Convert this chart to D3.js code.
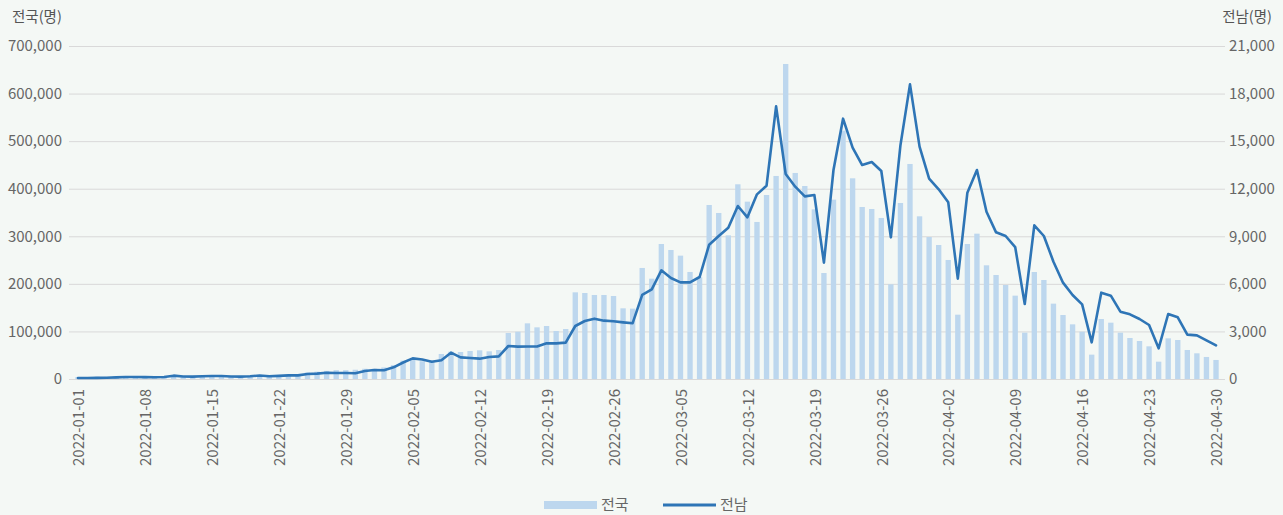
<!DOCTYPE html>
<html>
<head>
<meta charset="utf-8">
<script src="https://cdn.jsdelivr.net/npm/d3@7/dist/d3.min.js"></script>
<style>
html,body{margin:0;padding:0;background:#f4f8f5;}
svg{display:block;}
text{font-family:"Noto Sans CJK KR","Noto Sans",sans-serif;fill:#666;}
</style>
</head>
<body>
<svg id="chart" width="1283" height="515"></svg>
<script>
// Categories: daily dates 2022-01-01 .. 2022-04-30
const startDate = "2022-01-01";
const endDate = "2022-04-30";
const dates = d3.utcDay.range(new Date(startDate + "T00:00:00Z"), d3.utcDay.offset(new Date(endDate + "T00:00:00Z"), 1));

// 전국 (national daily cases) — bars, left axis
const national = [
  4060, 3310, 4710, 4370, 4370, 3940, 3720, 3580, 3190, 4650,
  4420, 4810, 4690, 4450, 4090, 4090, 6150, 6150, 7000, 7170,
  7430, 8090, 7960, 9090, 13800, 15390, 17060, 18600, 18580, 19440,
  21490, 21480, 24280, 29090, 38540, 41010, 37400, 38920, 52600, 57500,
  56800, 58900, 60300, 58200, 61000, 96700, 99500, 117000, 108600, 111400,
  100900, 105100, 182200, 180800, 176600, 176600, 174500, 148600, 147900, 233400,
  210900, 283800, 271200, 259300, 225000, 213700, 365800, 349000, 302000, 409300,
  372800, 330100, 386800, 426800, 662200, 433100, 405700, 356700, 222800, 377000,
  522000, 421900, 361600, 357400, 338500, 199000, 370000, 452000, 342000, 298500,
  281700, 250200, 135200, 283800, 305500, 239000, 218600, 197600, 175200, 97400,
  224900, 208100, 158400, 134500, 114900, 99500, 51200, 126100, 118400, 97400,
  86200, 79900, 68700, 36400, 85500, 82000, 61000, 54000, 46300, 40000
];

// 전남 (Jeonnam daily cases) — line, right axis
const jeonnam = [
  60, 65, 70, 75, 100, 125, 125, 120, 110, 130,
  210, 160, 150, 170, 190, 190, 160, 150, 170, 220,
  170, 200, 230, 230, 320, 340, 390, 380, 380, 360,
  505, 570, 550, 736, 1040, 1300, 1230, 1090, 1180, 1660,
  1366, 1324, 1282, 1387, 1429, 2081, 2039, 2045, 2050, 2249,
  2249, 2291, 3342, 3657, 3805, 3679, 3637, 3573, 3520, 5300,
  5654, 6853, 6369, 6096, 6096, 6432, 8471, 9018, 9543, 10909,
  10195, 11645, 12192, 17194, 12927, 12129, 11519, 11603, 7336, 13180,
  16417, 14588, 13495, 13684, 13116, 8934, 14735, 18582, 14651, 12633,
  11960, 11141, 6327, 11750, 13180, 10552, 9249, 9018, 8320, 4730,
  9690, 9018, 7399, 6075, 5297, 4708, 2312, 5444, 5255, 4246,
  4078, 3784, 3405, 1934, 4099, 3889, 2796, 2754, 2438, 2123
];

const leftTicks = [0, 100000, 200000, 300000, 400000, 500000, 600000, 700000];
const rightTicks = [0, 3000, 6000, 9000, 12000, 15000, 18000, 21000];
const xTickLabels = ["2022-01-01","2022-01-08","2022-01-15","2022-01-22","2022-01-29","2022-02-05","2022-02-12","2022-02-19","2022-02-26","2022-03-05","2022-03-12","2022-03-19","2022-03-26","2022-04-02","2022-04-09","2022-04-16","2022-04-23","2022-04-30"];
const leftTitle = "전국(명)";
const rightTitle = "전남(명)";
const seriesNames = ["전국", "전남"];

const barColor = "#bdd7ee";
const lineColor = "#2e75b6";
const gridColor = "#d9d9d9";

const svg = d3.select("#chart");
const fmtDate = d3.utcFormat("%Y-%m-%d");
const keys = dates.map(fmtDate);

const x = d3.scaleBand().domain(keys).range([73.2, 1220.8]).paddingInner(0.44).paddingOuter(0.22);
const yL = d3.scaleLinear().domain([0, 700000]).range([379, 46]);
const yR = d3.scaleLinear().domain([0, 21000]).range([379, 46]);

// grid
svg.append("g").selectAll("line").data(leftTicks).join("line")
  .attr("x1", 69).attr("x2", 1225)
  .attr("y1", d => yL(d) + 0.5).attr("y2", d => yL(d) + 0.5)
  .attr("stroke", gridColor).attr("stroke-width", 1);

// left axis labels
const fmt = d3.format(",");
svg.append("g").selectAll("text").data(leftTicks).join("text")
  .attr("x", 62).attr("y", d => yL(d)).attr("dy", "0.35em")
  .attr("text-anchor", "end").style("font-size", "15px").text(d => fmt(d));

// right axis labels
svg.append("g").selectAll("text").data(rightTicks).join("text")
  .attr("x", 1229).attr("y", d => yR(d)).attr("dy", "0.35em")
  .attr("text-anchor", "start").style("font-size", "15px").text(d => fmt(d));

// titles
svg.append("text").attr("x", 12).attr("y", 17).attr("dy", "0.35em")
  .style("font-size", "14.5px").style("fill", "#555").text(leftTitle);
svg.append("text").attr("x", 1272).attr("y", 17).attr("dy", "0.35em")
  .attr("text-anchor", "end").style("font-size", "14.5px").style("fill", "#555").text(rightTitle);

// bars
svg.append("g").selectAll("rect").data(national).join("rect")
  .attr("x", (d, i) => x(keys[i]))
  .attr("width", x.bandwidth())
  .attr("y", d => yL(d))
  .attr("height", d => yL(0) - yL(d))
  .attr("fill", barColor);

// line
const line = d3.line()
  .x((d, i) => x(keys[i]) + x.bandwidth() / 2)
  .y(d => yR(d));
svg.append("path").datum(jeonnam)
  .attr("d", line).attr("fill", "none")
  .attr("stroke", lineColor).attr("stroke-width", 2.6)
  .attr("stroke-linejoin", "round").attr("stroke-linecap", "round");

// x labels
svg.append("g").selectAll("text").data(xTickLabels).join("text")
  .attr("transform", d => `translate(${x(d) + x.bandwidth() / 2 + 1},389) rotate(-90)`)
  .attr("dy", "0.35em").attr("text-anchor", "end")
  .style("font-size", "15px").text(d => d);

// legend
const lg = svg.append("g");
lg.append("rect").attr("x", 544).attr("y", 501).attr("width", 53).attr("height", 8).attr("fill", barColor);
lg.append("text").attr("x", 601).attr("y", 505).attr("dy", "0.35em").style("font-size", "15px").text(seriesNames[0]);
lg.append("line").attr("x1", 663).attr("x2", 716).attr("y1", 505).attr("y2", 505)
  .attr("stroke", lineColor).attr("stroke-width", 3);
lg.append("text").attr("x", 720).attr("y", 505).attr("dy", "0.35em").style("font-size", "15px").text(seriesNames[1]);
</script>
</body>
</html>
